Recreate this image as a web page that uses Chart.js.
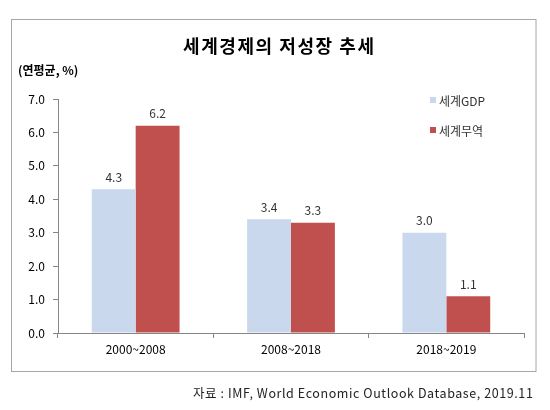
<!DOCTYPE html>
<html>
<head>
<meta charset="utf-8">
<script src="https://cdn.jsdelivr.net/npm/chart.js@4"></script>
<style>
  html, body { margin: 0; padding: 0; background: #fff; }
  #wrap { width: 550px; height: 410px; position: relative; }
</style>
</head>
<body>
<div id="wrap"><canvas id="barChart" width="550" height="410"></canvas></div>
<script>
const categories = ["2000~2008", "2008~2018", "2018~2019"];
const gdpValues = [4.3, 3.4, 3.0];
const tradeValues = [6.2, 3.3, 1.1];
const seriesNames = ["세계GDP", "세계무역"];
const chartTitle = "세계경제의 저성장 추세";
const unitLabel = "(연평균, %)";
const sourceText = "자료 : IMF, World Economic Outlook Database, 2019.11";

const FONT = "'Noto Sans CJK KR', 'Noto Sans', sans-serif";
const colors = ["#C9D8EC", "#C0504D"];

// spread a line of text to a given width
const fitText = (ctx, text, x, y, width) => {
    const w = ctx.measureText(text).width;
    ctx.letterSpacing = ((width - w) / (text.length - 1)).toFixed(2) + "px";
    ctx.fillText(text, x, y);
    ctx.letterSpacing = "0px";
};

// frame, title, unit label, legend, value labels and source line
const decorations = {
    id: "decorations",
    afterDraw(chart) {
        const ctx = chart.ctx;
        ctx.save();

        ctx.strokeStyle = "#a6a6a6";
        ctx.lineWidth = 1;
        ctx.strokeRect(11.5, 19.5, 524.5, 352);

        ctx.fillStyle = "#000";
        ctx.textAlign = "left";
        ctx.textBaseline = "middle";
        ctx.font = "bold 18px " + FONT;
        fitText(ctx, chartTitle, 183, 46, 191);

        ctx.font = "bold 12px " + FONT;
        ctx.fillText(unitLabel, 18, 70);

        // legend
        ctx.font = "12px " + FONT;
        seriesNames.forEach((name, i) => {
            const y = 100 + i * 30;
            ctx.fillStyle = colors[i];
            ctx.fillRect(430, y - 3, 6, 6);
            ctx.fillStyle = "#333";
            ctx.fillText(name, 439, y + 1);
        });

        // value labels
        ctx.textAlign = "center";
        ctx.font = "12px " + FONT;
        ctx.fillStyle = "#333";
        chart.data.datasets.forEach((ds, i) => {
            chart.getDatasetMeta(i).data.forEach((bar, j) => {
                ctx.fillText(ds.data[j].toFixed(1), bar.x, bar.y - 12);
            });
        });

        ctx.textAlign = "left";
        ctx.font = "12.5px " + FONT;
        ctx.fillStyle = "#222";
        fitText(ctx, sourceText, 193, 393, 340);

        ctx.restore();
    }
};

new Chart(document.getElementById("barChart"), {
    type: "bar",
    data: {
        labels: categories,
        datasets: [
            { label: seriesNames[0], data: gdpValues, backgroundColor: colors[0] },
            { label: seriesNames[1], data: tradeValues, backgroundColor: colors[1] },
        ],
    },
    options: {
        responsive: false,
        animation: false,
        devicePixelRatio: 1,
        layout: { padding: { left: 12, right: 26, top: 99, bottom: 46 } },
        datasets: { bar: { categoryPercentage: 0.565, barPercentage: 1.0 } },
        plugins: {
            legend: { display: false },
            tooltip: { enabled: false },
        },
        scales: {
            x: {
                afterFit: (scale) => { scale.height = 31; },
                grid: { drawOnChartArea: false, tickLength: 5, color: "#868686" },
                border: { color: "#868686" },
                ticks: { color: "#000", font: { family: FONT, size: 12 }, padding: 4 },
            },
            y: {
                min: 0,
                max: 7,
                afterFit: (scale) => { scale.width = 46; },
                grid: { drawOnChartArea: false, tickLength: 5, color: "#868686" },
                border: { color: "#868686" },
                ticks: {
                    stepSize: 1,
                    color: "#000",
                    font: { family: FONT, size: 12 },
                    padding: 8,
                    callback: (v) => v.toFixed(1),
                },
            },
        },
    },
    plugins: [decorations],
});
</script>
</body>
</html>
